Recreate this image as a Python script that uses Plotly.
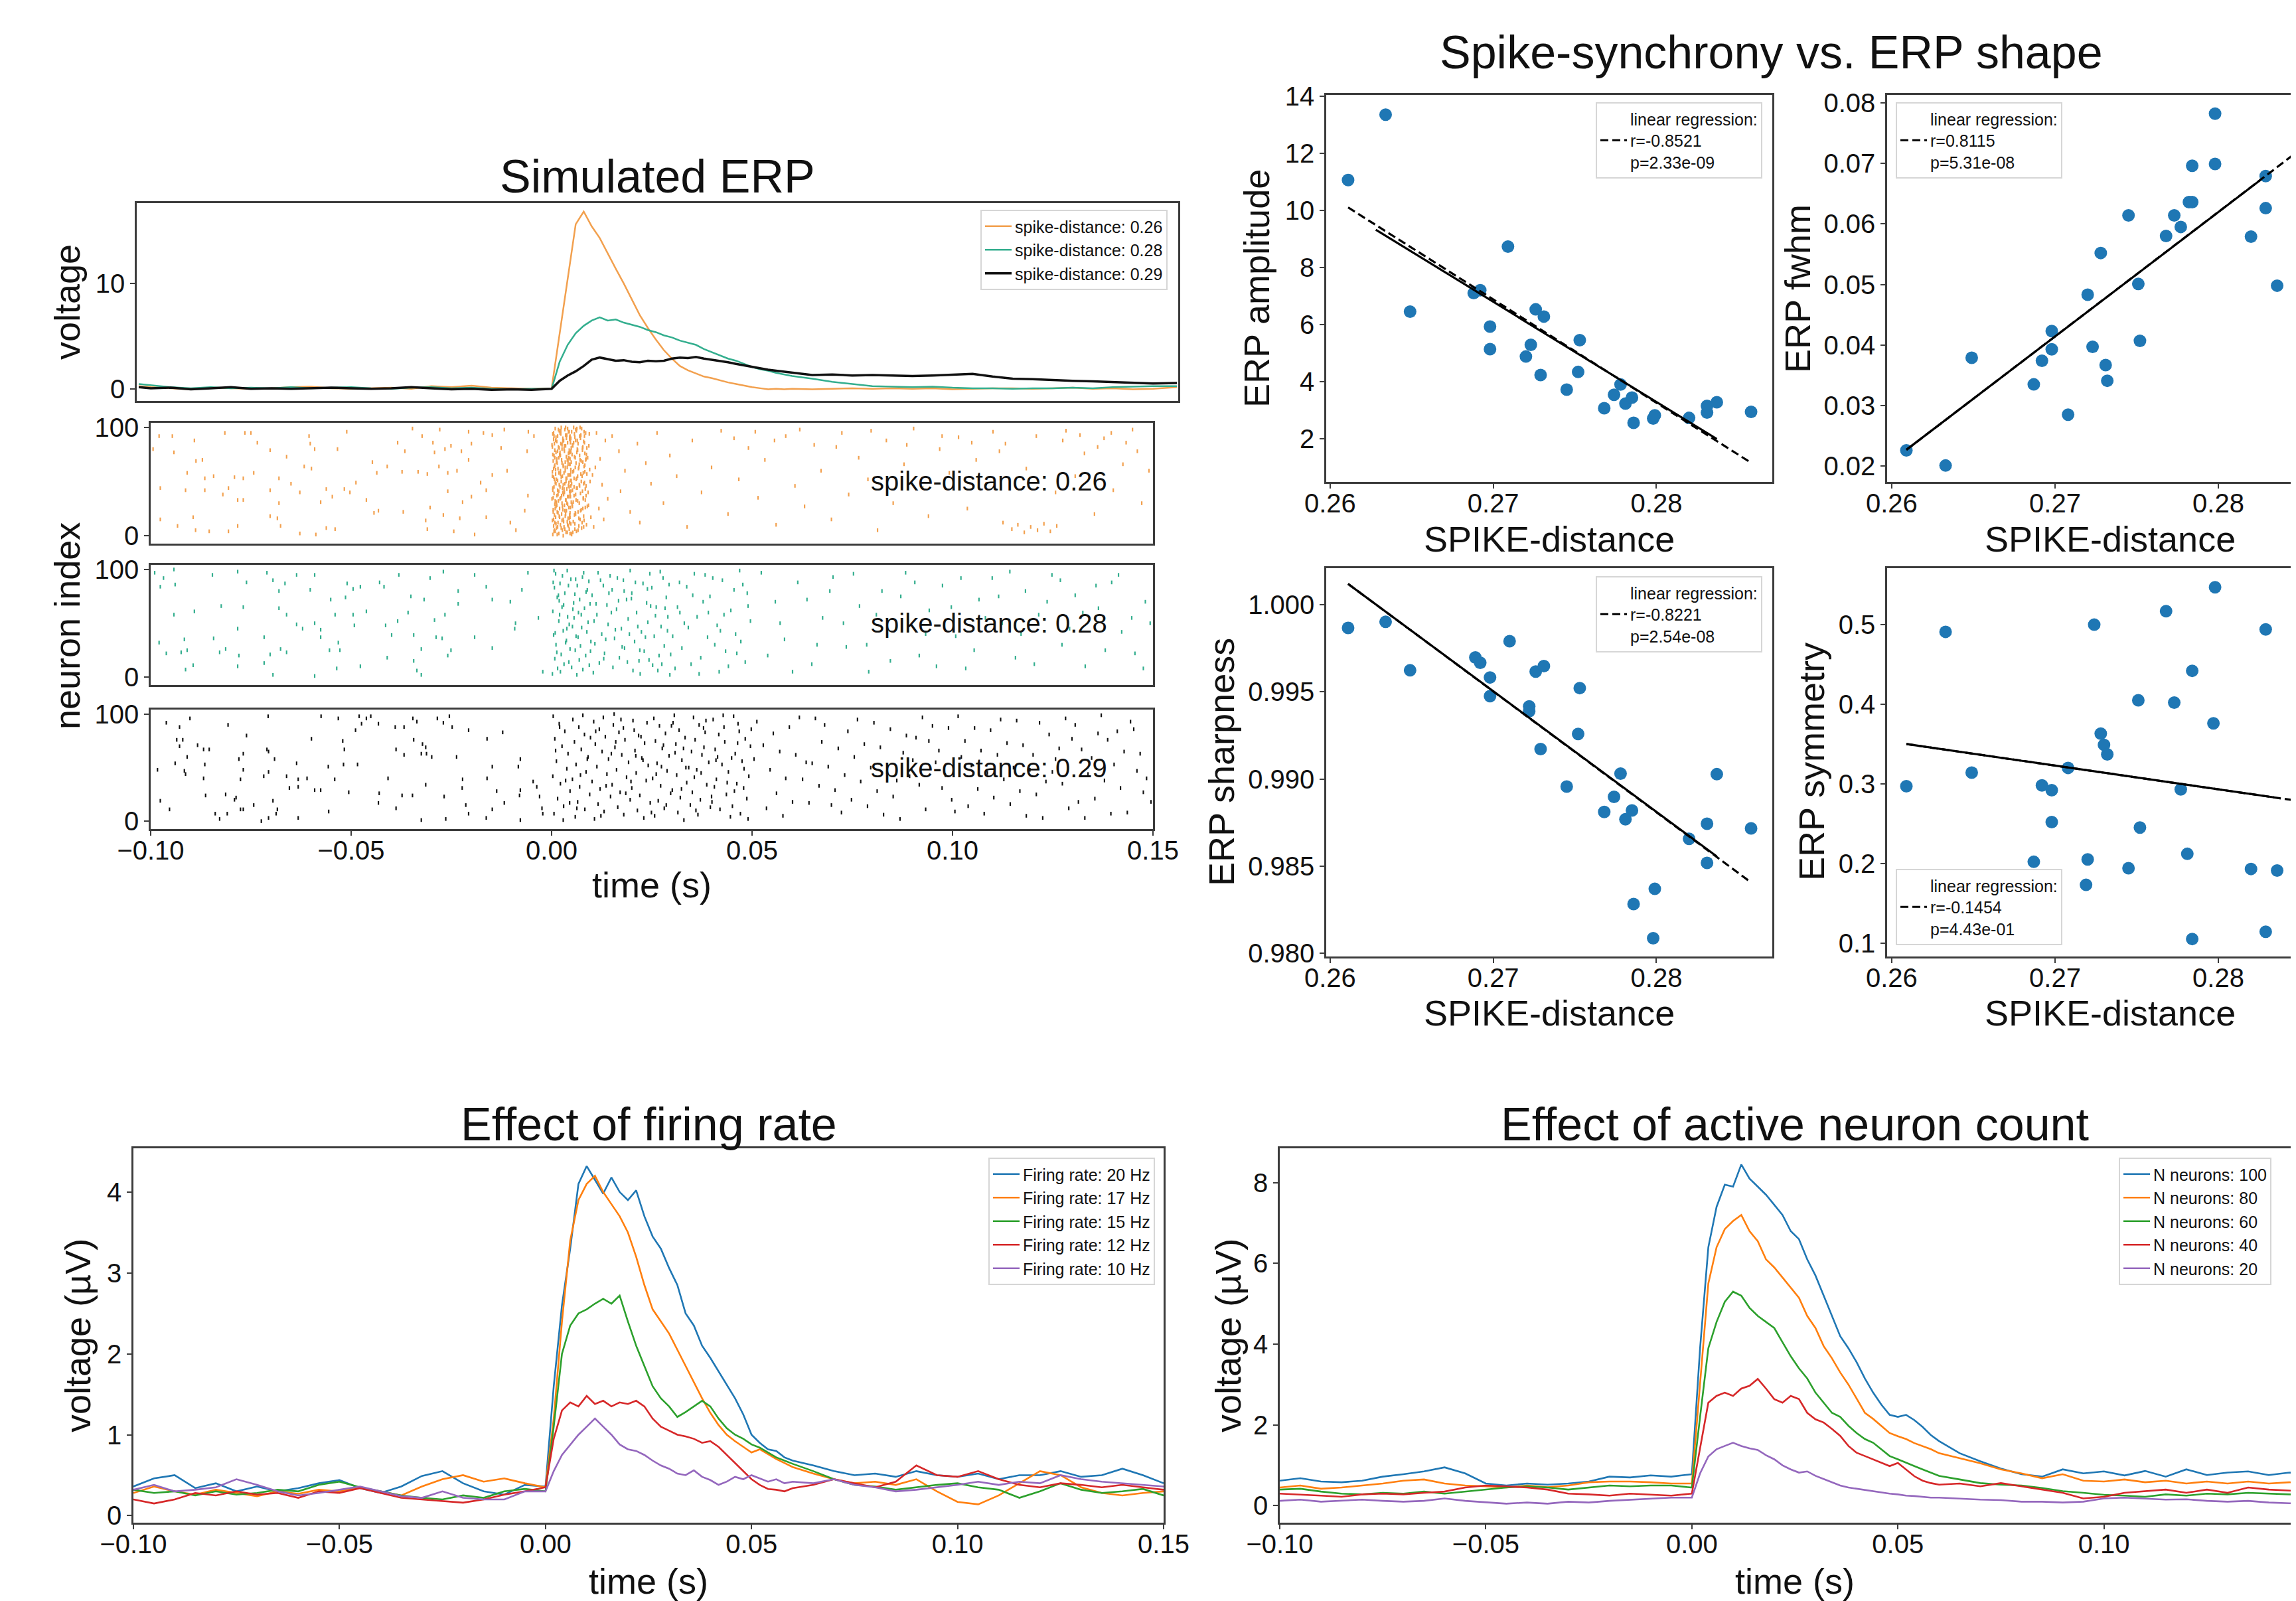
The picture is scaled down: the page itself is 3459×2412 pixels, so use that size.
import plotly.graph_objects as go

W, H = 3459, 2412
FONT = "Liberation Sans, Arial, sans-serif"
FRAME = "#3c3c3c"
TXT = "#111111"

# ---------------- Simulated ERP (top-left) ----------------
t_erp_ms = [-103, -100, -95, -90, -85, -80, -75, -70, -65, -60, -55, -50, -45, -40, -35, -30, -25, -20, -15, -10, -5, 0,
            2, 4, 6, 8, 10, 12, 14, 16, 18, 20, 22, 24, 26, 28, 30, 32, 34, 36, 38, 40, 42, 44, 46, 48, 50, 52, 54, 56, 58, 60,
            65, 70, 75, 80, 85, 90, 95, 100, 105, 110, 115, 120, 125, 130, 135, 140, 145, 150, 156]
erp_026 = [0.3, 0.2, 0.1, 0.0, 0.15, 0.1, 0.05, 0.1, 0.2, 0.25, 0.1, 0.05, 0.1, 0.15, 0.05, 0.3, 0.2, 0.35, 0.15, 0.1, 0.05, 0.1,
           5.2, 10.4, 15.6, 16.8, 15.4, 14.3, 12.8, 11.4, 10.0, 8.5, 7.0, 5.8, 4.7, 3.7, 2.9, 2.2, 1.8, 1.5, 1.2, 1.05, 0.85, 0.65, 0.5, 0.35, 0.2, 0.1, 0.0, 0.05, 0.0, 0.05,
           0.0, 0.05, 0.1, 0.05, 0.1, 0.05, 0.1, 0.0, 0.05, 0.1, 0.1, 0.05, 0.1, 0.15, 0.05, 0.1, 0.0, 0.05, 0.2]
erp_028 = [0.5, 0.4, 0.2, 0.1, 0.2, 0.1, 0.15, 0.1, 0.2, 0.1, 0.15, 0.2, 0.1, 0.05, 0.15, 0.2, 0.1, 0.15, 0.05, 0.0, 0.05, 0.05,
           2.6, 4.2, 5.3, 6.0, 6.5, 6.8, 6.5, 6.6, 6.3, 6.1, 5.9, 5.6, 5.4, 5.1, 4.9, 4.6, 4.4, 4.2, 3.8, 3.5, 3.2, 2.9, 2.7, 2.4, 2.1, 1.9, 1.75, 1.55, 1.4, 1.25,
           1.0, 0.7, 0.5, 0.3, 0.25, 0.2, 0.25, 0.15, 0.1, 0.1, 0.05, 0.1, 0.1, 0.15, 0.1, 0.2, 0.25, 0.3, 0.3]
erp_029 = [0.2, 0.1, 0.15, 0.0, 0.1, 0.2, 0.05, 0.1, 0.05, 0.1, 0.15, 0.1, 0.05, 0.1, 0.2, 0.1, 0.0, 0.05, -0.05, 0.0, -0.05, 0.05,
           0.8, 1.3, 1.7, 2.2, 2.8, 3.0, 2.85, 2.7, 2.75, 2.6, 2.55, 2.7, 2.65, 2.7, 2.9, 3.0, 2.95, 3.05, 2.9, 2.8, 2.7, 2.55, 2.4, 2.25, 2.1, 1.95, 1.85, 1.75, 1.65, 1.55,
           1.35, 1.4, 1.3, 1.35, 1.3, 1.25, 1.3, 1.4, 1.45, 1.2, 1.0, 0.95, 0.85, 0.8, 0.75, 0.7, 0.6, 0.55, 0.6]
erp_labels = ["spike-distance: 0.26", "spike-distance: 0.28", "spike-distance: 0.29"]
erp_colors = ["#F2A04E", "#33AE8E", "#111111"]

# ---------------- Raster plots (time in ms, neuron index) ----------------
raster_026 = [
    (-97.9, 92), (-94.6, 92), (-89.1, 88), (-81.5, 95), (-76.5, 95), (-75, 95), (-73.4, 86), (-60.5, 92), (-51.1, 96), (-34.7, 99),
    (-32.3, 92), (-27.9, 98), (-25.1, 83), (-20.7, 96), (-17, 95), (-14.8, 93), (-11.8, 98), (-5.8, 96), (-4.4, 92), (-99.4, 80),
    (-94.2, 77), (-88.7, 69), (-87.1, 70), (-70.2, 79), (-66.1, 73), (-60.2, 85), (-59.1, 80), (-53.4, 80), (-38.4, 86), (-36.6, 78),
    (-29.6, 86), (-29.2, 77), (-26.6, 80), (-22.5, 78), (-20, 85), (-12.6, 81), (-6.1, 78), (-90.9, 58), (-86.5, 53), (-84.3, 55),
    (-80.6, 44), (-79.1, 54), (-76.9, 53), (-74.3, 58), (-68, 53), (-65, 48), (-61.7, 64), (-59.9, 62), (-56.2, 43), (-51.7, 43),
    (-50.3, 40), (-48.8, 49), (-44.7, 68), (-43.6, 58), (-41, 64), (-37.3, 59), (-33.3, 59), (-31, 57), (-28.1, 64), (-25.9, 58),
    (-23.6, 60), (-20.7, 70), (-17.7, 49), (-14.8, 56), (-11.1, 60), (-5.9, 37), (-97.6, 44), (-91.3, 42), (-86.5, 42), (-82, 38),
    (-78.3, 33), (-76.9, 33), (-70.2, 42), (-68, 30), (-62.8, 40), (-57.6, 31), (-54.7, 36), (-46.2, 33), (-43.2, 23), (-37, 22),
    (-30.3, 26), (-25.9, 41), (-22.2, 31), (-20, 36), (-16.3, 42), (-6.7, 23), (-97.6, 15), (-93.3, 9), (-89.4, 17), (-88.8, 5),
    (-85.4, 4), (-80.6, 4), (-78.3, 9), (-70.2, 18), (-68.4, 16), (-67.6, 9), (-62.8, 2), (-58.8, 1), (-56.2, 7), (-54, 6),
    (-44.3, 21), (-31.4, 14), (-31, 6), (-27, 19), (-24.4, 4), (-22.9, 16), (-19.2, 1), (-16.3, 17), (-10.3, 12), (-8.9, 5),
    (0.3, 1), (1.8, 2), (3.6, 3), (0.9, 4), (2.7, 5), (4.4, 6), (1.2, 7), (3.1, 8), (0.5, 9), (2.2, 10), (4.8, 11), (1.6, 12),
    (3.9, 13), (0.2, 14), (2.9, 15), (4.1, 16), (1.0, 17), (3.4, 18), (0.7, 19), (2.5, 20), (4.6, 21), (1.4, 22), (3.7, 23),
    (0.4, 24), (2.0, 25), (4.3, 26), (1.1, 27), (3.2, 28), (0.8, 29), (2.6, 30), (4.9, 31), (1.7, 32), (3.5, 33), (0.1, 34),
    (2.3, 35), (4.0, 36), (1.3, 37), (3.0, 38), (0.6, 39), (2.8, 40), (4.5, 41), (1.5, 42), (3.8, 43), (0.3, 44), (2.1, 45),
    (4.2, 46), (1.9, 47), (3.3, 48), (0.9, 49), (2.4, 50), (4.7, 51), (1.2, 52), (3.6, 53), (0.5, 54), (2.7, 55), (4.4, 56),
    (1.0, 57), (3.1, 58), (0.2, 59), (2.2, 60), (4.8, 61), (1.6, 62), (3.9, 63), (0.7, 64), (2.9, 65), (4.1, 66), (1.4, 67),
    (3.4, 68), (0.4, 69), (2.5, 70), (4.6, 71), (1.8, 72), (3.7, 73), (0.6, 74), (2.0, 75), (4.3, 76), (1.1, 77), (3.2, 78),
    (0.8, 79), (2.6, 80), (4.9, 81), (1.7, 82), (3.5, 83), (0.1, 84), (2.3, 85), (4.0, 86), (1.3, 87), (3.0, 88), (0.5, 89),
    (2.8, 90), (4.5, 91), (1.5, 92), (3.8, 93), (0.3, 94), (2.1, 95), (4.2, 96), (1.9, 97), (3.3, 98), (0.9, 99), (2.4, 100),
    (2.9, 0), (4.6, 2), (0.6, 4), (3.3, 6), (1.5, 8), (4.0, 10), (0.8, 12), (2.6, 14), (4.4, 16), (1.9, 18), (3.5, 20), (0.4, 22),
    (2.8, 24), (4.7, 26), (1.3, 28), (3.8, 30), (0.9, 32), (2.1, 34), (4.3, 36), (1.6, 38), (3.2, 40), (0.3, 42), (2.7, 44),
    (4.8, 46), (1.1, 48), (3.6, 50), (0.7, 52), (2.4, 54), (4.1, 56), (1.8, 58), (3.4, 60), (0.5, 62), (2.9, 64), (4.5, 66),
    (1.2, 68), (3.9, 70), (0.8, 72), (2.2, 74), (4.2, 76), (1.5, 78), (3.1, 80), (0.2, 82), (2.6, 84), (4.7, 86), (1.0, 88),
    (3.7, 90), (0.6, 92), (2.3, 94), (4.4, 96), (1.7, 98), (3.5, 100),
    (1.4, 1), (3.9, 3), (0.7, 5), (2.4, 7), (4.2, 9), (1.1, 11), (3.0, 13), (0.5, 15), (2.0, 17), (4.5, 19), (1.6, 21), (3.3, 23),
    (0.9, 25), (2.7, 27), (4.0, 29), (1.2, 31), (3.6, 33), (0.4, 35), (2.5, 37), (4.6, 39), (1.8, 41), (3.1, 43), (0.6, 45),
    (2.9, 47), (4.3, 49), (1.5, 51), (3.8, 53), (0.2, 55), (2.2, 57), (4.8, 59), (1.0, 61), (3.4, 63), (0.8, 65), (2.6, 67),
    (4.1, 69), (1.3, 71), (3.7, 73), (0.3, 75), (2.1, 77), (4.4, 79), (1.9, 81), (3.2, 83), (0.7, 85), (2.8, 87), (4.7, 89),
    (1.1, 91), (3.5, 93), (0.5, 95), (2.3, 97), (4.0, 99),
    (5.0, 1), (6.2, 4), (7.5, 7), (8.7, 10), (5.4, 13), (6.8, 16), (8.0, 18), (5.9, 21), (7.2, 23), (8.9, 27), (5.1, 29), (6.5, 32),
    (7.9, 34), (4.7, 36), (6.0, 38), (7.7, 41), (8.4, 43), (5.6, 45), (6.9, 47), (8.2, 49), (4.9, 51), (6.3, 53), (7.6, 55), (8.8, 57),
    (5.3, 59), (6.7, 62), (8.1, 64), (4.6, 66), (6.1, 67), (7.4, 69), (8.6, 71), (5.7, 73), (7.0, 74), (8.3, 76), (4.8, 78), (6.4, 80),
    (7.8, 82), (5.2, 84), (6.6, 85), (8.0, 87), (4.5, 89), (5.8, 91), (7.3, 93), (8.5, 95), (6.2, 97), (7.5, 99), (5.5, 100), (4.9, 2),
    (6.6, 5), (8.0, 8), (5.8, 11), (7.1, 15), (4.6, 17), (6.0, 20), (7.8, 25), (5.2, 27), (6.9, 30), (8.4, 33), (5.6, 37), (7.2, 39),
    (4.8, 41), (6.4, 44), (8.6, 46), (5.0, 48), (7.4, 50), (6.1, 52), (4.7, 56), (7.9, 58), (5.5, 60), (6.8, 63), (8.3, 65), (4.9, 68),
    (7.1, 70), (5.9, 72), (8.7, 75), (4.6, 77), (6.5, 79), (7.7, 81), (5.3, 83), (8.2, 86), (6.0, 88), (4.8, 90), (7.0, 92), (5.7, 94),
    (8.1, 96), (6.3, 99), (4.4, 45), (4.3, 72), (4.5, 12), (4.6, 92),
    (5.3, 3), (6.8, 9), (8.1, 14), (5.7, 19), (7.4, 24), (9.2, 28), (6.1, 33), (8.6, 37), (5.2, 42), (7.0, 46), (9.6, 50), (6.5, 55),
    (8.3, 59), (5.9, 63), (7.8, 68), (9.0, 72), (6.3, 77), (8.8, 81), (5.5, 86), (7.2, 90), (9.4, 94), (6.0, 98), (5.8, 6), (7.6, 12),
    (9.8, 17), (6.6, 22), (8.4, 26), (5.4, 31), (7.9, 35), (9.1, 40), (6.2, 44), (8.0, 48), (5.6, 53), (7.3, 57), (9.5, 61), (6.9, 66),
    (8.5, 70), (5.1, 75), (7.7, 79), (9.3, 83), (6.4, 88), (8.2, 92), (5.0, 96), (7.1, 100), (10.5, 8), (11.8, 25), (12.6, 47),
    (10.9, 63), (13.4, 88), (11.2, 95), (12.1, 71), (14.0, 34), (10.2, 56), (13.0, 15),
    (15.1, 92), (16.8, 78), (18.3, 60), (17.2, 41), (19.6, 22), (21.4, 85), (23.5, 67), (22.0, 12), (24.8, 48), (26.3, 95), (27.9, 30),
    (29.5, 74), (31.2, 55), (33.8, 8), (35.1, 88), (37.4, 40), (39.9, 63), (42.3, 97), (44.0, 20), (46.7, 52), (49.1, 81), (51.5, 35),
    (53.2, 70), (56.0, 10), (58.4, 92), (60.7, 46), (63.1, 27), (65.5, 84), (67.2, 60), (69.8, 15), (72.4, 95), (74.1, 38), (76.6, 72),
    (78.9, 52), (81.3, 5), (83.5, 88), (85.2, 30), (87.9, 66), (90.3, 99), (92.6, 44), (94.0, 18), (96.8, 80), (99.2, 58), (101.5, 91),
    (103.7, 25), (105.9, 70), (108.4, 48), (110.1, 96), (112.6, 12), (114.8, 6), (116.3, 10), (117.9, 3), (119.5, 8), (121.2, 5),
    (122.8, 11), (124.4, 4), (126.0, 9), (113.2, 85), (118.4, 62), (120.9, 92), (125.7, 40), (128.3, 97), (130.6, 55), (132.9, 76),
    (135.4, 20), (137.8, 90), (140.1, 42), (142.5, 66), (144.9, 98), (147.2, 30), (149.0, 60), (127.5, 88), (131.8, 93), (136.2, 82),
    (139.6, 95), (143.3, 86), (146.1, 78), (45.5, 90), (50.8, 96), (55.6, 88), (61.9, 98), (71.0, 82), (79.7, 97), (88.6, 84),
    (97.4, 92), (104.8, 86), (111.7, 78),
]

raster_028 = [
    (-99.0, 97), (-96.8, 92), (-94.2, 100), (-97.6, 84), (-93.9, 86), (-84.6, 95), (-78.3, 98), (-76.1, 88), (-71.0, 97), (-69.5, 90),
    (-66.5, 87), (-63.6, 95), (-59.1, 95), (-68.0, 80), (-60.2, 81), (-51.0, 87), (-49.5, 82), (-47.7, 84), (-42.9, 88), (-41.8, 84),
    (-38.1, 95), (-30.3, 92), (-27.0, 98), (-23.3, 80), (-19.2, 95), (-16.3, 84), (-7.4, 81), (-5.9, 97), (-94.2, 58), (-89.1, 61),
    (-82.4, 66), (-76.9, 65), (-68.0, 64), (-66.1, 58), (-63.6, 49), (-62.1, 45), (-59.1, 50), (-57.6, 44), (-55.1, 72), (-54.0, 58),
    (-51.4, 74), (-49.5, 58), (-49.2, 48), (-46.2, 61), (-41.4, 48), (-38.4, 52), (-35.8, 60), (-35.1, 75), (-31.8, 72), (-29.2, 53),
    (-26.6, 58), (-23.3, 68), (-14.8, 72), (-10.3, 70), (-9.0, 50), (-9.2, 45), (-97.9, 32), (-96.1, 22), (-91.6, 35), (-92.4, 23),
    (-90.9, 25), (-84.3, 36), (-82.8, 23), (-81.3, 26), (-78.3, 45), (-78.0, 20), (-71.7, 37), (-70.2, 21), (-67.6, 26), (-66.1, 23),
    (-57.6, 37), (-55.4, 25), (-53.2, 32), (-52.8, 25), (-41.0, 18), (-39.9, 39), (-34.4, 39), (-32.5, 26), (-28.8, 37), (-27.3, 36),
    (-25.1, 25), (-19.2, 37), (-14.8, 27), (-25.9, 20), (-91.3, 7), (-89.4, 11), (-78.3, 10), (-71.7, 13), (-69.5, 2), (-59.1, 1),
    (-53.6, 8), (-47.7, 10), (-34.4, 15), (-33.6, 6), (-32.5, 2), (-2.2, 5), (-3.3, 55),
    (0.2, 3), (1.5, 8), (3.1, 12), (0.8, 17), (2.4, 21), (4.6, 26), (1.1, 30), (3.7, 34), (0.5, 39), (2.9, 43), (5.2, 47), (1.8, 52),
    (4.0, 56), (0.3, 61), (2.6, 65), (5.5, 69), (1.4, 74), (3.3, 78), (0.7, 83), (2.1, 87), (4.8, 91), (1.0, 96), (3.9, 99), (6.3, 2),
    (7.8, 7), (9.4, 11), (6.9, 16), (8.5, 20), (5.9, 25), (7.2, 29), (9.8, 33), (6.1, 38), (8.8, 42), (7.5, 46), (9.1, 51), (5.6, 55),
    (6.7, 60), (8.2, 64), (9.6, 68), (7.0, 72), (5.8, 77), (8.9, 81), (6.4, 85), (9.3, 89), (7.7, 93), (8.0, 97), (2.2, 5), (4.3, 14),
    (1.3, 23), (3.5, 32), (0.9, 41), (4.4, 49), (2.0, 58), (3.0, 67), (1.7, 76), (4.2, 85), (2.7, 94), (0.6, 99), (5.0, 9), (6.6, 37),
    (7.4, 58), (8.6, 79), (3.8, 45), (1.9, 71), (0.4, 88), (9.7, 24), (5.3, 63), (6.0, 91),
    (10.4, 4), (11.9, 13), (13.2, 22), (10.8, 31), (12.5, 40), (14.1, 49), (11.3, 58), (13.8, 67), (10.1, 76), (12.9, 85), (14.6, 94),
    (15.3, 9), (16.9, 18), (18.2, 27), (15.7, 36), (17.4, 45), (19.1, 54), (16.2, 63), (18.7, 72), (15.1, 81), (17.9, 90), (19.6, 99),
    (20.3, 6), (21.8, 15), (23.1, 24), (20.7, 33), (22.4, 42), (24.0, 51), (21.2, 60), (23.7, 69), (20.0, 78), (22.8, 87), (24.5, 96),
    (25.2, 11), (26.8, 20), (28.1, 29), (25.6, 38), (27.3, 47), (29.0, 56), (26.1, 65), (28.6, 74), (25.0, 83), (27.8, 92), (29.5, 2),
    (11.1, 68), (13.5, 35), (16.4, 92), (18.9, 14), (21.5, 47), (23.9, 82), (26.5, 6), (28.9, 43), (12.2, 90), (14.9, 60), (17.6, 28),
    (19.9, 73), (22.1, 3), (24.7, 66), (27.1, 98), (29.7, 21), (10.6, 52), (15.9, 44), (20.9, 88), (25.9, 57), (13.0, 17), (18.1, 80),
    (23.4, 37), (28.3, 64), (11.6, 97), (16.7, 71), (22.0, 25), (27.5, 12), (14.3, 78), (19.4, 40), (24.3, 16), (29.3, 86),
    (30.8, 8), (32.5, 27), (34.1, 46), (31.4, 65), (33.7, 84), (35.6, 96), (37.2, 18), (38.9, 37), (36.3, 56), (39.5, 75), (40.2, 92),
    (41.8, 5), (43.4, 24), (42.1, 43), (44.7, 62), (45.5, 81), (46.9, 99), (48.3, 14), (47.2, 33), (49.6, 52), (31.9, 88), (34.8, 12),
    (37.8, 70), (40.7, 30), (43.0, 58), (45.9, 40), (48.8, 78), (33.1, 50), (36.8, 3), (39.1, 60), (42.6, 90), (46.2, 22), (49.0, 66),
    (30.2, 38), (35.2, 76), (41.3, 48), (44.1, 10), (47.7, 86), (38.3, 95), (32.0, 60),
    (52.3, 97), (55.8, 70), (58.1, 35), (61.4, 88), (64.9, 12), (67.6, 55), (70.2, 93), (73.5, 28), (76.8, 66), (79.1, 5), (82.4, 80),
    (85.9, 45), (88.3, 97), (91.7, 20), (94.2, 62), (97.5, 85), (100.8, 38), (103.3, 8), (106.6, 72), (109.9, 92), (112.4, 50),
    (115.7, 18), (118.2, 80), (121.5, 58), (124.8, 95), (127.3, 30), (130.6, 76), (133.1, 10), (136.4, 64), (139.7, 88), (142.2, 42),
    (145.5, 22), (148.1, 70), (149.3, 50), (53.9, 20), (57.0, 50), (60.1, 5), (63.7, 72), (66.2, 30), (69.4, 80), (72.8, 50),
    (75.3, 96), (78.6, 30), (81.0, 58), (84.5, 15), (87.1, 75), (90.6, 88), (93.3, 40), (96.0, 10), (99.7, 65), (102.1, 92),
    (105.4, 25), (108.2, 55), (111.5, 75), (114.3, 98), (117.1, 40), (120.4, 12), (123.6, 70), (126.9, 90), (129.2, 45), (132.5, 60),
    (135.8, 85), (138.1, 25), (141.4, 95), (144.7, 55), (147.6, 8),
]

raster_029 = [
    (-96.1, 92), (-92.8, 88), (-90.2, 96), (-80.7, 90), (-70.7, 98), (-57.5, 98), (-53.2, 96), (-48.0, 98), (-46.2, 96), (-45.1, 98),
    (-47.4, 91), (-48.9, 85), (-43.2, 91), (-39.0, 88), (-36.8, 88), (-34.6, 96), (-33.6, 93), (-28.5, 96), (-27.0, 92), (-25.5, 98),
    (-24.8, 88), (-20.7, 85), (-12.2, 83), (-93.5, 76), (-92.8, 70), (-92.0, 76), (-88.3, 71), (-86.8, 67), (-85.4, 67), (-90.9, 60),
    (-93.9, 54), (-91.6, 47), (-91.3, 44), (-98.3, 48), (-86.8, 40), (-86.5, 53), (-86.3, 24), (-81.3, 25), (-78.7, 22), (-79.1, 20),
    (-76.9, 63), (-76.1, 80), (-78.0, 58), (-76.9, 48), (-77.6, 39), (-71.0, 67), (-70.6, 65), (-69.1, 58), (-70.6, 46), (-71.8, 42),
    (-66.1, 42), (-65.4, 31), (-63.2, 32), (-63.2, 39), (-61.0, 40), (-63.6, 54), (-59.9, 77), (-59.1, 29), (-57.6, 29), (-55.7, 51),
    (-54.1, 39), (-52.1, 75), (-51.7, 67), (-51.9, 53), (-48.4, 53), (-50.6, 27), (-43.2, 17), (-40.8, 40), (-38.8, 67), (-36.8, 62),
    (-34.4, 76), (-32.5, 63), (-32.2, 72), (-31.2, 63), (-31.4, 69), (-29.9, 60), (-31.4, 34), (-23.7, 60), (-22.3, 31), (-22.2, 39),
    (-16.1, 77), (-16.1, 40), (-14.8, 51), (-13.7, 28), (-21.4, 15), (-20.7, 7), (-14.8, 11), (-7.8, 58), (-8.3, 51), (-7.8, 29),
    (-8.0, 24), (-7.8, 1), (-4.6, 37), (-3.7, 32), (-3.0, 23), (-2.4, 12), (-2.2, 7), (-97.6, 19), (-95.3, 11), (-83.9, 7), (-82.8, 2),
    (-80.9, 7), (-77.6, 11), (-76.9, 11), (-74.3, 15), (-72.4, 0), (-70.6, 3), (-69.5, 19), (-68.7, 7), (-68.4, 11), (-63.2, 3),
    (-55.6, 9), (-38.8, 12), (-37.3, 24), (-34.7, 24), (-32.5, 1), (-26.8, 23), (-26.4, 2), (-43.0, 26), (-16.3, 3), (-11.8, 17),
    (0.4, 98), (1.9, 91), (3.3, 84), (0.8, 77), (2.6, 70), (4.1, 63), (1.2, 56), (3.8, 49), (0.3, 42), (2.2, 35), (4.6, 28), (1.5, 21),
    (3.0, 14), (0.6, 7), (2.9, 1), (5.3, 95), (6.8, 88), (8.2, 81), (5.7, 74), (7.4, 67), (9.1, 60), (6.1, 53), (8.6, 46), (5.2, 39),
    (7.0, 32), (9.5, 25), (6.5, 18), (8.3, 11), (5.9, 4), (7.8, 99), (10.5, 93), (11.9, 86), (13.4, 79), (10.9, 72), (12.6, 65),
    (14.2, 58), (11.3, 51), (13.8, 44), (10.1, 37), (12.1, 30), (14.7, 23), (11.6, 16), (13.1, 9), (10.7, 2), (12.9, 97), (15.4, 90),
    (16.8, 83), (18.3, 76), (15.8, 69), (17.5, 62), (19.2, 55), (16.2, 48), (18.7, 41), (15.1, 34), (17.1, 27), (19.6, 20), (16.5, 13),
    (18.0, 6), (15.6, 100), (17.9, 87), (20.3, 94), (21.7, 80), (23.2, 73), (20.8, 66), (22.5, 59), (24.1, 52), (21.1, 45), (23.6, 38),
    (20.0, 31), (22.0, 24), (24.6, 17), (21.4, 10), (23.0, 3), (20.6, 85), (22.8, 57), (25.5, 96), (26.9, 89), (28.4, 82), (25.9, 75),
    (27.6, 68), (29.3, 61), (26.3, 54), (28.8, 47), (25.2, 40), (27.2, 33), (29.7, 26), (26.6, 19), (28.1, 12), (25.7, 5), (27.9, 71),
    (30.3, 92), (31.8, 85), (33.3, 78), (30.8, 64), (32.5, 57), (34.2, 50), (31.2, 43), (33.7, 36), (30.1, 29), (32.1, 22), (34.6, 15),
    (31.5, 8), (33.0, 1), (30.6, 99), (32.9, 68), (35.4, 97), (36.8, 90), (38.3, 83), (35.8, 76), (37.5, 62), (39.2, 55), (36.2, 48),
    (38.7, 34), (35.1, 27), (37.1, 20), (39.6, 13), (36.5, 6), (38.0, 69), (35.6, 41), (37.9, 87), (40.3, 95), (41.7, 81), (43.2, 74),
    (40.8, 67), (42.5, 53), (44.1, 46), (41.1, 39), (43.6, 25), (40.0, 18), (42.0, 11), (44.6, 4), (41.4, 60), (43.0, 88), (40.6, 32),
    (45.4, 98), (46.8, 84), (48.3, 77), (45.8, 63), (47.5, 56), (49.2, 42), (46.2, 35), (48.7, 21), (45.1, 14), (47.1, 7), (49.6, 70),
    (46.5, 91), (48.0, 49), (45.6, 28), (1.0, 66), (3.5, 38), (6.3, 12), (8.9, 58), (11.0, 84), (13.6, 33), (16.0, 74), (18.5, 26),
    (21.0, 61), (23.8, 92), (26.1, 44), (28.6, 15), (31.0, 72), (33.5, 50), (36.0, 10), (38.5, 94), (41.0, 57), (43.8, 36), (46.4, 73),
    (49.0, 2), (2.0, 88), (4.5, 17), (7.2, 43), (9.7, 78), (12.3, 5), (14.9, 63), (17.3, 95), (19.8, 37), (22.3, 79), (24.9, 8),
    (27.4, 51), (29.9, 89), (32.4, 30), (34.9, 65), (37.3, 45), (39.9, 23), (42.8, 99), (44.9, 59), (47.9, 31), (49.8, 86),
    (51.2, 93), (52.8, 71), (54.5, 48), (56.1, 26), (57.7, 5), (59.3, 88), (60.9, 62), (62.6, 39), (64.2, 17), (65.8, 96), (67.4, 74),
    (69.0, 51), (70.7, 29), (72.3, 8), (73.9, 84), (75.5, 60), (77.1, 37), (78.8, 14), (80.4, 92), (82.0, 69), (83.6, 46), (85.2, 23),
    (86.9, 2), (88.5, 80), (90.1, 57), (91.7, 34), (93.3, 11), (95.0, 89), (96.6, 66), (98.2, 43), (99.8, 20), (101.4, 98), (103.1, 75),
    (104.7, 52), (106.3, 30), (107.9, 7), (109.5, 85), (111.2, 62), (112.8, 39), (114.4, 16), (116.0, 94), (117.6, 71), (119.3, 48),
    (120.9, 25), (122.5, 3), (124.1, 81), (125.7, 58), (127.4, 35), (129.0, 12), (130.6, 90), (132.2, 67), (133.8, 44), (135.5, 21),
    (137.1, 99), (138.7, 76), (140.3, 53), (141.9, 31), (143.6, 8), (145.2, 86), (146.8, 63), (148.4, 40), (149.5, 18),
    (50.5, 58), (53.6, 12), (55.3, 82), (58.4, 40), (61.8, 97), (63.5, 55), (66.7, 33), (68.1, 90), (71.5, 68), (74.8, 20), (76.3, 95),
    (79.6, 50), (81.2, 28), (84.5, 86), (87.7, 64), (89.3, 42), (92.5, 97), (94.1, 75), (97.4, 31), (100.6, 9), (102.2, 60), (105.5, 87),
    (108.7, 45), (110.3, 22), (113.6, 73), (115.2, 50), (118.4, 5), (121.7, 92), (123.3, 37), (126.6, 68), (128.2, 96), (131.4, 18),
    (134.7, 59), (136.3, 82), (139.5, 7), (142.8, 65), (144.4, 93), (147.6, 27), (56.9, 65), (60.1, 18), (65.0, 54), (69.8, 15),
    (73.1, 43), (78.0, 72), (82.8, 6), (86.1, 38), (90.9, 78), (95.8, 55), (99.0, 87), (103.9, 14), (107.1, 66), (112.0, 95),
    (116.8, 28), (120.1, 62), (124.9, 46), (129.8, 77), (133.0, 3), (137.9, 38), (141.1, 84), (146.0, 47),
]
raster_labels = ["spike-distance: 0.26", "spike-distance: 0.28", "spike-distance: 0.29"]

# ---------------- Spike-synchrony scatter plots ----------------
amp_x = [0.2611, 0.2634, 0.2649, 0.2688, 0.2692, 0.2698, 0.2698, 0.2709, 0.2720, 0.2723, 0.2726, 0.2731, 0.2729, 0.2745, 0.2752,
         0.2753, 0.2768, 0.2774, 0.2778, 0.2781, 0.2785, 0.2786, 0.2798, 0.2799, 0.2820, 0.2831, 0.2831, 0.2837, 0.2858]
amp_y = [11.07, 13.36, 6.46, 7.11, 7.21, 5.94, 5.15, 8.74, 4.89, 5.30, 6.54, 6.29, 4.24, 3.73, 4.35,
         5.46, 3.08, 3.55, 3.91, 3.24, 3.45, 2.57, 2.72, 2.83, 2.74, 2.93, 3.16, 3.29, 2.95]
fwhm_x = [0.2609, 0.2633, 0.2649, 0.2687, 0.2692, 0.2698, 0.2698, 0.2708, 0.2720, 0.2723, 0.2728, 0.2731, 0.2732, 0.2745,
          0.2751, 0.2752, 0.2768, 0.2773, 0.2777, 0.2782, 0.2784, 0.2784, 0.2798, 0.2798, 0.2820, 0.2829, 0.2829, 0.2836]
fwhm_y = [0.0226, 0.0201, 0.0379, 0.0335, 0.0374, 0.0393, 0.0423, 0.0285, 0.0483, 0.0397, 0.0552, 0.0367, 0.0341, 0.0614,
          0.0501, 0.0407, 0.0580, 0.0614, 0.0595, 0.0636, 0.0636, 0.0696, 0.0782, 0.0699, 0.0579, 0.0679, 0.0626, 0.0498]
sharp_x = [0.2611, 0.2634, 0.2649, 0.2689, 0.2692, 0.2698, 0.2698, 0.2710, 0.2722, 0.2722, 0.2726, 0.2731, 0.2729, 0.2745,
           0.2752, 0.2753, 0.2768, 0.2774, 0.2778, 0.2781, 0.2785, 0.2786, 0.2798, 0.2799, 0.2820, 0.2831, 0.2831, 0.2837, 0.2858]
sharp_y = [0.99867, 0.99902, 0.99624, 0.99698, 0.99667, 0.99583, 0.99476, 0.99791, 0.99417, 0.99389, 0.99617, 0.99648, 0.99172,
           0.98957, 0.99259, 0.99522, 0.98811, 0.98898, 0.99031, 0.98769, 0.98820, 0.98283, 0.98087, 0.98370, 0.98657, 0.98519,
           0.98744, 0.99028, 0.98717]
sym_x = [0.2609, 0.2633, 0.2649, 0.2687, 0.2692, 0.2698, 0.2698, 0.2708, 0.2720, 0.2719, 0.2724, 0.2728, 0.2730, 0.2732, 0.2745,
         0.2751, 0.2752, 0.2768, 0.2773, 0.2777, 0.2781, 0.2784, 0.2784, 0.2798, 0.2797, 0.2820, 0.2829, 0.2829, 0.2836]
sym_y = [0.297, 0.491, 0.314, 0.202, 0.298, 0.292, 0.252, 0.320, 0.205, 0.173, 0.500, 0.363, 0.349, 0.337, 0.194,
         0.405, 0.245, 0.517, 0.402, 0.293, 0.212, 0.442, 0.105, 0.547, 0.376, 0.193, 0.494, 0.114, 0.191]

# regression lines: dashed full extent and solid central part (x, y endpoints)
amp_reg_dash = ([0.2611, 0.2858], [10.11, 1.17])
amp_reg_solid = ([0.2628, 0.2837], [9.33, 2.0])
fwhm_reg_dash = ([0.2609, 0.2858], [0.0227, 0.0739])
fwhm_reg_solid = ([0.2609, 0.2826], [0.0227, 0.0673])
sharp_reg_dash = ([0.2611, 0.2858], [1.0012, 0.98407])
sharp_reg_solid = ([0.2611, 0.2837], [1.0012, 0.98556])
sym_reg_dash = ([0.2609, 0.2858], [0.350, 0.2758])
sym_reg_solid = ([0.2609, 0.2834], [0.350, 0.283])
reg_labels = ["linear regression:<br>r=-0.8521<br>p=2.33e-09",
              "linear regression:<br>r=0.8115<br>p=5.31e-08",
              "linear regression:<br>r=-0.8221<br>p=2.54e-08",
              "linear regression:<br>r=-0.1454<br>p=4.43e-01"]

# ---------------- Effect of firing rate / active neuron count ----------------
t_ms = [-100, -95, -90, -85, -80, -75, -70, -65, -60, -55, -50, -45, -40, -35, -30, -25, -20, -15, -10, -5, 0,
        2, 4, 6, 8, 10, 12, 14, 16, 18, 20, 22, 24, 26, 28, 30, 32, 34, 36, 38, 40, 42, 44, 46, 48, 50, 52, 54, 56, 58, 60,
        65, 70, 75, 80, 85, 90, 95, 100, 105, 110, 115, 120, 125, 130, 135, 140, 145, 150]
rate_labels = ["Firing rate: 20 Hz", "Firing rate: 17 Hz", "Firing rate: 15 Hz", "Firing rate: 12 Hz", "Firing rate: 10 Hz"]
rate_20 = [0.36, 0.46, 0.5, 0.34, 0.40, 0.30, 0.36, 0.30, 0.34, 0.40, 0.44, 0.34, 0.28, 0.36, 0.49, 0.55, 0.40, 0.30, 0.26, 0.38, 0.36,
           1.6, 2.6, 3.3, 4.1, 4.32, 4.15, 3.98, 4.18, 4.0, 3.9, 4.02, 3.7, 3.45, 3.3, 3.06, 2.85, 2.5, 2.35, 2.1, 1.95, 1.78, 1.62, 1.45, 1.25, 1.0, 0.9, 0.82, 0.8, 0.72, 0.68,
           0.62, 0.55, 0.5, 0.52, 0.48, 0.55, 0.5, 0.48, 0.52, 0.45, 0.5, 0.5, 0.55, 0.48, 0.5, 0.58, 0.5, 0.4]
rate_17 = [0.28, 0.36, 0.30, 0.26, 0.32, 0.28, 0.24, 0.3, 0.27, 0.32, 0.3, 0.35, 0.3, 0.25, 0.36, 0.45, 0.5, 0.42, 0.46, 0.4, 0.35,
           1.2, 2.4, 3.4, 3.9, 4.1, 4.2, 4.0, 3.85, 3.7, 3.5, 3.2, 2.85, 2.55, 2.4, 2.25, 2.05, 1.85, 1.65, 1.45, 1.27, 1.12, 1.0, 0.92, 0.85, 0.78, 0.82, 0.76, 0.7, 0.65, 0.6,
           0.52, 0.45, 0.4, 0.42, 0.38, 0.45, 0.3, 0.17, 0.14, 0.25, 0.4, 0.55, 0.5, 0.35, 0.28, 0.25, 0.28, 0.3]
rate_15 = [0.32, 0.28, 0.3, 0.25, 0.3, 0.26, 0.28, 0.32, 0.3, 0.38, 0.42, 0.35, 0.3, 0.25, 0.22, 0.2, 0.25, 0.22, 0.3, 0.33, 0.3,
           1.1, 2.0, 2.35, 2.5, 2.55, 2.62, 2.68, 2.62, 2.72, 2.4, 2.1, 1.85, 1.6, 1.45, 1.35, 1.22, 1.28, 1.35, 1.42, 1.35, 1.2, 1.08, 1.0, 0.95, 0.88, 0.84, 0.78, 0.72, 0.68, 0.64,
           0.55, 0.45, 0.38, 0.36, 0.32, 0.35, 0.38, 0.4, 0.35, 0.32, 0.22, 0.3, 0.4, 0.32, 0.28, 0.3, 0.33, 0.25]
rate_12 = [0.2, 0.15, 0.2, 0.28, 0.25, 0.3, 0.26, 0.28, 0.22, 0.3, 0.28, 0.34, 0.28, 0.22, 0.2, 0.18, 0.16, 0.2, 0.26, 0.3, 0.35,
           0.95, 1.3, 1.4, 1.35, 1.48, 1.38, 1.42, 1.35, 1.4, 1.38, 1.42, 1.35, 1.2, 1.1, 1.05, 1.0, 0.98, 0.95, 0.9, 0.92, 0.85, 0.75, 0.65, 0.55, 0.45, 0.38, 0.33, 0.32, 0.3, 0.34,
           0.38, 0.45, 0.4, 0.35, 0.42, 0.62, 0.5, 0.48, 0.55, 0.45, 0.38, 0.35, 0.4, 0.38, 0.35, 0.38, 0.35, 0.32]
rate_10 = [0.32, 0.38, 0.3, 0.32, 0.35, 0.45, 0.38, 0.3, 0.25, 0.28, 0.32, 0.36, 0.3, 0.24, 0.22, 0.3, 0.22, 0.2, 0.2, 0.3, 0.3,
           0.55, 0.75, 0.88, 1.0, 1.1, 1.2, 1.1, 1.0, 0.88, 0.82, 0.8, 0.75, 0.68, 0.62, 0.58, 0.52, 0.5, 0.56, 0.48, 0.44, 0.38, 0.42, 0.48, 0.45, 0.5, 0.46, 0.42, 0.45, 0.4, 0.42,
           0.4, 0.45, 0.38, 0.35, 0.3, 0.32, 0.35, 0.38, 0.42, 0.38, 0.42, 0.4, 0.5, 0.45, 0.42, 0.4, 0.38, 0.36]

count_labels = ["N neurons: 100", "N neurons: 80", "N neurons: 60", "N neurons: 40", "N neurons: 20"]
count_100 = [0.62, 0.68, 0.6, 0.58, 0.62, 0.72, 0.78, 0.85, 0.95, 0.8, 0.55, 0.5, 0.55, 0.52, 0.55, 0.6, 0.72, 0.7, 0.75, 0.72, 0.78,
             3.9, 6.4, 7.4, 7.95, 7.9, 8.45, 8.1, 7.9, 7.7, 7.45, 7.2, 6.8, 6.6, 6.1, 5.7, 5.2, 4.7, 4.2, 3.9, 3.55, 3.15, 2.8, 2.5, 2.25, 2.2, 2.25, 2.12, 1.95, 1.75, 1.6,
             1.3, 1.1, 0.92, 0.78, 0.72, 0.9, 0.8, 0.85, 0.75, 0.86, 0.72, 0.9, 0.76, 0.82, 0.85, 0.76, 0.82, 0.8]
count_80 = [0.45, 0.5, 0.42, 0.45, 0.5, 0.55, 0.62, 0.65, 0.55, 0.5, 0.48, 0.45, 0.5, 0.46, 0.5, 0.58, 0.6, 0.6, 0.58, 0.55, 0.55,
            3.0, 5.5, 6.4, 6.85, 7.05, 7.2, 6.8, 6.55, 6.1, 5.9, 5.65, 5.4, 5.15, 4.7, 4.4, 3.95, 3.65, 3.3, 3.0, 2.65, 2.3, 2.15, 1.98, 1.8, 1.72, 1.65, 1.55, 1.48, 1.4, 1.3,
            1.18, 1.05, 0.9, 0.8, 0.68, 0.78, 0.62, 0.6, 0.65, 0.58, 0.62, 0.55, 0.6, 0.55, 0.6, 0.55, 0.58, 0.55]
count_60 = [0.4, 0.42, 0.35, 0.3, 0.28, 0.32, 0.3, 0.35, 0.3, 0.35, 0.4, 0.45, 0.48, 0.45, 0.4, 0.45, 0.5, 0.48, 0.5, 0.5, 0.45,
            2.2, 3.9, 4.55, 5.05, 5.3, 5.2, 4.9, 4.7, 4.55, 4.4, 4.05, 3.7, 3.4, 3.15, 2.8, 2.55, 2.3, 2.2, 1.98, 1.8, 1.65, 1.56, 1.4, 1.23, 1.15, 1.06, 0.98, 0.9, 0.82, 0.74,
            0.65, 0.56, 0.52, 0.5, 0.44, 0.36, 0.32, 0.27, 0.25, 0.22, 0.28, 0.25, 0.3, 0.28, 0.32, 0.3, 0.28, 0.3]
count_40 = [0.3, 0.28, 0.25, 0.22, 0.28, 0.3, 0.28, 0.32, 0.35, 0.45, 0.5, 0.48, 0.45, 0.4, 0.3, 0.28, 0.25, 0.3, 0.28, 0.25, 0.3,
            1.4, 2.55, 2.72, 2.8, 2.72, 2.9, 2.97, 3.14, 2.9, 2.64, 2.55, 2.72, 2.64, 2.3, 2.14, 2.06, 1.9, 1.73, 1.48, 1.31, 1.23, 1.15, 1.06, 0.98, 1.06, 0.9, 0.73, 0.62, 0.56, 0.52,
            0.55, 0.48, 0.56, 0.48, 0.4, 0.32, 0.18, 0.22, 0.32, 0.36, 0.4, 0.32, 0.4, 0.32, 0.45, 0.4, 0.38, 0.35]
count_20 = [0.12, 0.15, 0.1, 0.12, 0.15, 0.12, 0.1, 0.12, 0.18, 0.12, 0.08, 0.05, 0.08, 0.05, 0.1, 0.08, 0.12, 0.15, 0.18, 0.2, 0.2,
            0.8, 1.22, 1.4, 1.48, 1.56, 1.48, 1.42, 1.38, 1.25, 1.15, 1.0, 0.9, 0.82, 0.85, 0.74, 0.66, 0.58, 0.5, 0.45, 0.42, 0.38, 0.36, 0.33, 0.3, 0.28, 0.25, 0.24, 0.22, 0.2, 0.2,
            0.17, 0.15, 0.14, 0.1, 0.1, 0.08, 0.1, 0.18, 0.2, 0.18, 0.15, 0.16, 0.12, 0.1, 0.12, 0.08, 0.06, 0.06]
tab_colors = ["#1f77b4", "#ff7f0e", "#2ca02c", "#d62728", "#9467bd"]

for s in (erp_026, erp_028, erp_029):
    assert len(s) == len(t_erp_ms)
for s in (rate_20, rate_17, rate_15, rate_12, rate_10, count_100, count_80, count_60, count_40, count_20):
    assert len(s) == len(t_ms), len(s)

# ---------------- figure ----------------
fig = go.Figure()


def sec(ms_list):
    return [v / 1000.0 for v in ms_list]


def dx(a, b):
    return [a / W, min(b / W, 1.0)]


def dy(top, bottom):
    return [1 - bottom / H, 1 - top / H]


# ERP lines
for lab, col, ys, lw in zip(erp_labels, erp_colors, [erp_026, erp_028, erp_029], [2.5, 2.5, 3.5]):
    fig.add_trace(go.Scatter(x=sec(t_erp_ms), y=ys, mode="lines", name=lab, line=dict(color=col, width=lw),
                             xaxis="x", yaxis="y", legend="legend"))

# rasters
for i, (spikes, col) in enumerate(zip([raster_026, raster_028, raster_029], erp_colors)):
    ax = str(i + 2)
    fig.add_trace(go.Scatter(x=[s[0] / 1000.0 for s in spikes], y=[s[1] for s in spikes], mode="markers",
                             marker=dict(symbol="line-ns", size=4, color=col, line=dict(color=col, width=2.2)),
                             xaxis="x" + ax, yaxis="y" + ax, showlegend=False, hoverinfo="x+y"))

# scatter plots
scat = [(amp_x, amp_y, amp_reg_dash, amp_reg_solid, "5", "legend2"),
        (fwhm_x, fwhm_y, fwhm_reg_dash, fwhm_reg_solid, "6", "legend3"),
        (sharp_x, sharp_y, sharp_reg_dash, sharp_reg_solid, "7", "legend4"),
        (sym_x, sym_y, sym_reg_dash, sym_reg_solid, "8", "legend5")]
for (xs, ys, rd, rs, ax, lg), lab in zip(scat, reg_labels):
    fig.add_trace(go.Scatter(x=xs, y=ys, mode="markers", marker=dict(size=19, color="#1f77b4"),
                             xaxis="x" + ax, yaxis="y" + ax, showlegend=False))
    fig.add_trace(go.Scatter(x=rd[0], y=rd[1], mode="lines", name=lab, line=dict(color="black", width=3.2, dash="12px,6px"),
                             xaxis="x" + ax, yaxis="y" + ax, legend=lg))
    fig.add_trace(go.Scatter(x=rs[0], y=rs[1], mode="lines", line=dict(color="black", width=3.2),
                             xaxis="x" + ax, yaxis="y" + ax, showlegend=False))

# firing rate
for lab, col, ys in zip(rate_labels, tab_colors, [rate_20, rate_17, rate_15, rate_12, rate_10]):
    fig.add_trace(go.Scatter(x=sec(t_ms), y=ys, mode="lines", name=lab, line=dict(color=col, width=2.6),
                             xaxis="x9", yaxis="y9", legend="legend6"))
# neuron count
for lab, col, ys in zip(count_labels, tab_colors, [count_100, count_80, count_60, count_40, count_20]):
    fig.add_trace(go.Scatter(x=sec(t_ms), y=ys, mode="lines", name=lab, line=dict(color=col, width=2.6),
                             xaxis="x10", yaxis="y10", legend="legend7"))


def axis(**kw):
    d = dict(showline=True, mirror=True, linecolor=FRAME, linewidth=2.5, showgrid=False, zeroline=False,
             ticks="outside", ticklen=7, tickwidth=2, tickcolor=FRAME, automargin=False,
             tickfont=dict(size=40, family=FONT, color=TXT))
    d.update(kw)
    return d


def xaxis_lab(**kw):
    return axis(ticklabelstandoff=-12, **kw)


time_ticks = [-0.1, -0.05, 0.0, 0.05, 0.1, 0.15]
spk_ticks = [0.26, 0.27, 0.28]

layout = dict(
    width=W, height=H, margin=dict(l=0, r=0, t=0, b=0, pad=0, autoexpand=False),
    paper_bgcolor="white", plot_bgcolor="white", template=None, showlegend=True,
    font=dict(family=FONT, color=TXT),
    xaxis=axis(domain=dx(198, 1767), range=[-0.1035, 0.1563], anchor="y", showticklabels=False, ticks=""),
    yaxis=axis(domain=dy(298, 596), range=[-1.1, 17.6], tickvals=[0, 10], anchor="x"),
    xaxis2=axis(domain=dx(219, 1729), range=[-0.1, 0.15], anchor="y2", showticklabels=False, ticks=""),
    yaxis2=axis(domain=dy(629, 811), range=[-7.4, 104.3], tickvals=[0, 100], anchor="x2"),
    xaxis3=axis(domain=dx(219, 1729), range=[-0.1, 0.15], anchor="y3", showticklabels=False, ticks=""),
    yaxis3=axis(domain=dy(843, 1024), range=[-7.4, 104.3], tickvals=[0, 100], anchor="x3"),
    xaxis4=xaxis_lab(domain=dx(219, 1729), range=[-0.1, 0.15], anchor="y4", tickvals=time_ticks, tickformat=".2f"),
    yaxis4=axis(domain=dy(1061, 1241), range=[-7.4, 104.3], tickvals=[0, 100], anchor="x4"),
    xaxis5=xaxis_lab(domain=dx(1990, 2662), range=[0.25976, 0.2871], anchor="y5", tickvals=spk_ticks, tickformat=".2f"),
    yaxis5=axis(domain=dy(135, 718), range=[0.5, 14.05], tickvals=[2, 4, 6, 8, 10, 12, 14], anchor="x5"),
    xaxis6=xaxis_lab(domain=dx(2835, 3459), range=[0.25972, 0.28508], anchor="y6", tickvals=spk_ticks, tickformat=".2f"),
    yaxis6=axis(domain=dy(135, 718), range=[0.0174, 0.0813], tickvals=[0.02, 0.03, 0.04, 0.05, 0.06, 0.07, 0.08],
                tickformat=".2f", anchor="x6"),
    xaxis7=xaxis_lab(domain=dx(1990, 2662), range=[0.25976, 0.2871], anchor="y7", tickvals=spk_ticks, tickformat=".2f"),
    yaxis7=axis(domain=dy(848, 1433), range=[0.97982, 1.0021], tickvals=[0.980, 0.985, 0.990, 0.995, 1.000],
                tickformat=".3f", anchor="x7"),
    xaxis8=xaxis_lab(domain=dx(2835, 3459), range=[0.25972, 0.28508], anchor="y8", tickvals=spk_ticks, tickformat=".2f"),
    yaxis8=axis(domain=dy(848, 1433), range=[0.083, 0.571], tickvals=[0.1, 0.2, 0.3, 0.4, 0.5], tickformat=".1f", anchor="x8"),
    xaxis9=xaxis_lab(domain=dx(193, 1745), range=[-0.1, 0.15], anchor="y9", tickvals=time_ticks, tickformat=".2f"),
    yaxis9=axis(domain=dy(1722, 2286), range=[-0.087, 4.54], tickvals=[0, 1, 2, 3, 4], anchor="x9"),
    xaxis10=xaxis_lab(domain=dx(1920, 3459), range=[-0.1, 0.1479], anchor="y10", tickvals=time_ticks, tickformat=".2f"),
    yaxis10=axis(domain=dy(1722, 2286), range=[-0.42, 8.85], tickvals=[0, 2, 4, 6, 8], anchor="x10"),
)


def legend_cfg(xpx, ypx, xanchor, yanchor, size=25):
    return dict(x=xpx / W, y=1 - ypx / H, xref="container", yref="container", xanchor=xanchor, yanchor=yanchor,
                bgcolor="rgba(255,255,255,0.85)", bordercolor="#d6d6d6", borderwidth=2,
                font=dict(size=size, family=FONT, color=TXT), tracegroupgap=0, itemwidth=40, valign="middle")


layout["legend"] = legend_cfg(1751, 308, "right", "top")
layout["legend2"] = legend_cfg(2647, 146, "right", "top")
layout["legend3"] = legend_cfg(2848, 146, "left", "top")
layout["legend4"] = legend_cfg(2647, 860, "right", "top")
layout["legend5"] = legend_cfg(2848, 1416, "left", "bottom")
layout["legend6"] = legend_cfg(1732, 1736, "right", "top")
layout["legend7"] = legend_cfg(3184, 1736, "left", "top")
fig.update_layout(**layout)


def ann(text, xpx, ypx, size, angle=0):
    fig.add_annotation(text=text, x=xpx / W, y=1 - ypx / H, xref="paper", yref="paper", showarrow=False,
                       textangle=angle, xanchor="center", yanchor="middle",
                       font=dict(size=size, family=FONT, color=TXT))


ann("Simulated ERP", 982, 258, 70)
ann("Spike-synchrony vs. ERP shape", 2660, 71, 70)
ann("Effect of firing rate", 969, 1686, 70)
ann("Effect of active neuron count", 2696, 1686, 70)
ann("voltage", 93, 447, 54, -90)
ann("neuron index", 93, 935, 54, -90)
ann("time (s)", 974, 1325, 54)
ann("ERP amplitude", 1885, 427, 54, -90)
ann("ERP fwhm", 2700, 427, 54, -90)
ann("SPIKE-distance", 2326, 804, 54)
ann("SPIKE-distance", 3171, 804, 54)
ann("ERP sharpness", 1832, 1140, 54, -90)
ann("ERP symmetry", 2721, 1140, 54, -90)
ann("SPIKE-distance", 2326, 1518, 54)
ann("SPIKE-distance", 3171, 1518, 54)
ann("voltage (µV)", 109, 2004, 54, -90)
ann("time (s)", 969, 2374, 54)
ann("voltage (µV)", 1842, 2004, 54, -90)
ann("time (s)", 2696, 2374, 54)

for i, lab in enumerate(raster_labels):
    ax = str(i + 2)
    fig.add_annotation(text=lab, x=0.1091, y=50, xref="x" + ax, yref="y" + ax, showarrow=False,
                       xanchor="center", yanchor="middle", font=dict(size=40, family=FONT, color=TXT))

fig.write_html("out.html")
